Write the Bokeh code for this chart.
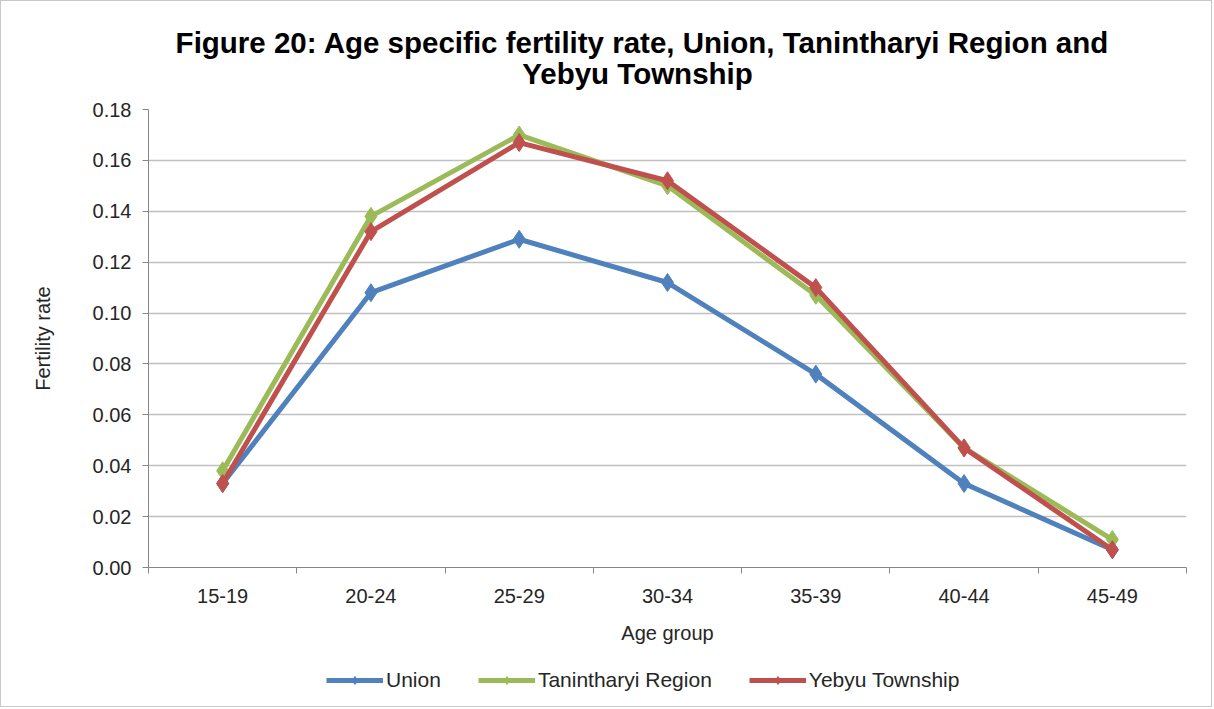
from bokeh.plotting import figure
from bokeh.layouts import column
from bokeh.models import (ColumnDataSource, FixedTicker, Legend, LegendItem, Range1d,
                          NumeralTickFormatter, Label)
from bokeh.embed import file_html
from bokeh.resources import INLINE

age_groups = ["15-19", "20-24", "25-29", "30-34", "35-39", "40-44", "45-49"]
union = [0.033, 0.108, 0.129, 0.112, 0.076, 0.033, 0.007]
tanintharyi = [0.038, 0.138, 0.170, 0.150, 0.107, 0.047, 0.011]
yebyu = [0.033, 0.132, 0.167, 0.152, 0.110, 0.047, 0.007]
series_names = ["Union", "Tanintharyi Region", "Yebyu Township"]
colors = ["#4F81BD", "#9BBB59", "#C0504D"]
title_lines = ["Figure 20: Age specific fertility rate, Union, Tanintharyi Region and",
               "Yebyu Township"]
y_ticks = [0.00, 0.02, 0.04, 0.06, 0.08, 0.10, 0.12, 0.14, 0.16, 0.18]

xpos = [i + 0.5 for i in range(len(age_groups))]
FONT = "Liberation Sans"
W = 1210
H_TITLE = 94
H_MAIN = 556
H_LEG = 55
BL, BR = 147, 25
FRAME_W = W - BL - BR

# ---- title strip (frame aligned with the chart's frame) ----
r = figure(width=W, height=H_TITLE, output_backend="svg", toolbar_location=None,
           x_range=Range1d(0, FRAME_W), y_range=Range1d(0, H_TITLE),
           min_border_left=BL, min_border_right=BR, min_border_top=0, min_border_bottom=0)
r.axis.visible = False
r.grid.visible = False
r.outline_line_color = None
for txt, xc, yc in ((title_lines[0], 494, 53), (title_lines[1], 489, 22)):
    r.add_layout(Label(x=xc, y=yc, text=txt, text_align="center", text_baseline="middle",
                       text_font=FONT, text_font_size="29.5px", text_font_style="bold",
                       text_color="#000000"))

# ---- main chart ----
p = figure(width=W, height=H_MAIN, output_backend="svg", toolbar_location=None,
           x_range=Range1d(0, len(age_groups)), y_range=Range1d(0, 0.18),
           min_border_left=BL, min_border_right=BR, min_border_top=14,
           min_border_bottom=H_MAIN - 14 - 458)
p.outline_line_color = None
p.background_fill_color = "white"
p.border_fill_color = "white"

# x axis: labels at category centres, ticks at category boundaries
p.xaxis.ticker = FixedTicker(ticks=xpos, minor_ticks=list(range(len(age_groups) + 1)))
p.xaxis.major_label_overrides = {x: a for x, a in zip(xpos, age_groups)}
p.xaxis.major_tick_out = 0
p.xaxis.major_tick_in = 0
p.xaxis.minor_tick_out = 6
p.xaxis.minor_tick_in = 0
p.xaxis.minor_tick_line_color = "#868686"
p.xaxis.axis_line_color = "#868686"
p.xaxis.axis_label = "Age group"
p.xaxis.major_label_standoff = 15
p.xaxis.axis_label_standoff = 16

# y axis
p.yaxis.ticker = FixedTicker(ticks=y_ticks)
p.yaxis.formatter = NumeralTickFormatter(format="0.00")
p.yaxis.major_tick_out = 6
p.yaxis.major_tick_in = 0
p.yaxis.minor_tick_line_color = None
p.yaxis.axis_line_color = "#868686"
p.yaxis.major_tick_line_color = "#868686"
p.yaxis.axis_label = "Fertility rate"
p.yaxis.major_label_standoff = 11
p.yaxis.axis_label_standoff = 36

for ax in (p.xaxis, p.yaxis):
    ax.major_label_text_font = FONT
    ax.major_label_text_font_size = "20px"
    ax.major_label_text_color = "#262626"
    ax.axis_label_text_font = FONT
    ax.axis_label_text_font_size = "20px"
    ax.axis_label_text_font_style = "normal"
    ax.axis_label_text_color = "#262626"

p.xgrid.grid_line_color = None
p.ygrid.ticker = FixedTicker(ticks=y_ticks[1:])
p.ygrid.grid_line_color = "#C0C0C0"
p.ygrid.grid_line_width = 1.5

for name, vals, col in zip(series_names, [union, tanintharyi, yebyu], colors):
    src = ColumnDataSource(dict(x=xpos, y=vals))
    p.line("x", "y", source=src, line_color=col, line_width=5)
    p.scatter("x", "y", source=src, marker="diamond", size=18, fill_color=col,
              line_color=col)

# ---- legend strip (its renderers hold off-range points so only the legend shows) ----
q = figure(width=W, height=H_LEG, output_backend="svg", toolbar_location=None,
           x_range=Range1d(0, 1), y_range=Range1d(0, 1),
           min_border_left=BL, min_border_right=BR, min_border_top=0, min_border_bottom=0)
q.axis.visible = False
q.grid.visible = False
q.outline_line_color = None
items = []
for name, col in zip(series_names, colors):
    src = ColumnDataSource(dict(x=[-10, -9], y=[-10, -9]))
    r1 = q.line("x", "y", source=src, line_color=col, line_width=5)
    r2 = q.scatter("x", "y", source=src, marker="diamond", size=10, fill_color=col,
                   line_color=col)
    items.append(LegendItem(label=name, renderers=[r1, r2]))
legend = Legend(items=items, orientation="horizontal", location=(178, 14),
                label_text_font=FONT, label_text_font_size="21px", label_text_color="#262626",
                glyph_width=57, glyph_height=20, spacing=37, label_standoff=3,
                border_line_color=None, background_fill_alpha=0, padding=5, margin=0)
q.add_layout(legend, "center")

layout = column(r, p, q, spacing=0)
layout.styles = {"border": "1px solid #C8C8C8"}

open("out.html", "w").write(file_html(layout, INLINE))
